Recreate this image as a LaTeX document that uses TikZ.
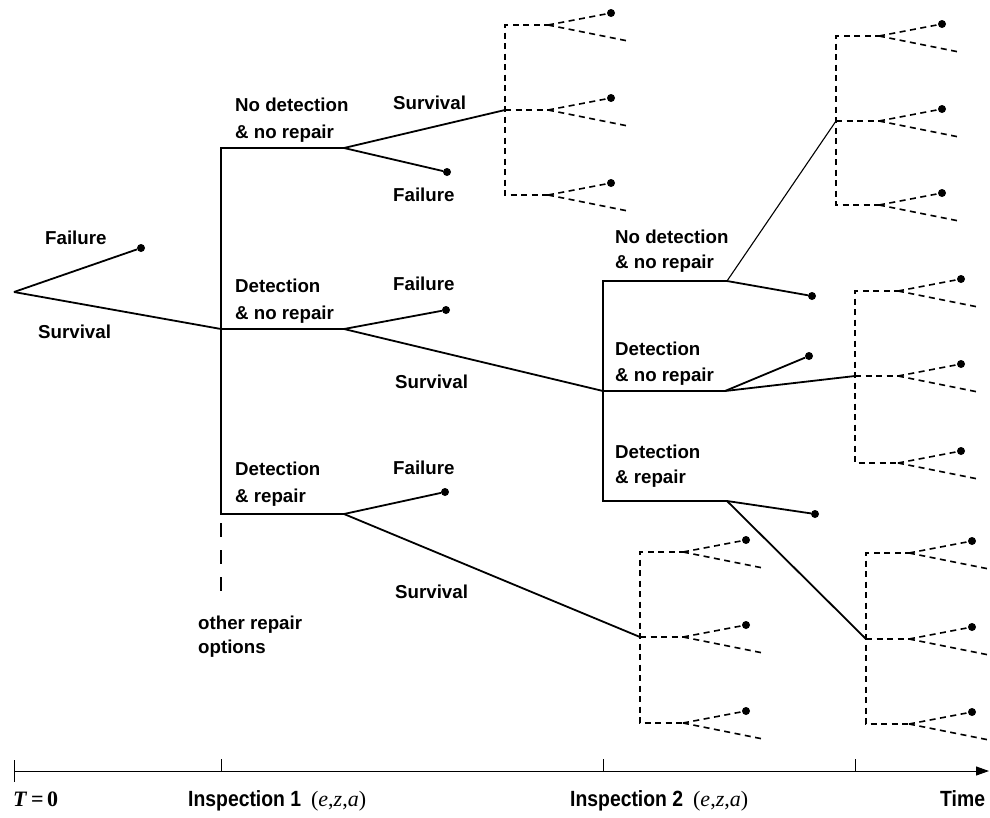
\documentclass[tikz,border=0pt]{standalone}
\usepackage{fontspec}
\setmainfont{Liberation Sans}
\newfontfamily\axisfont{Liberation Sans}[FakeStretch=0.88]
\newfontfamily\serifaxis{Liberation Serif}
\usetikzlibrary{arrows.meta}
\newcommand\dgroup[5]{%
  \draw[dsh] ({#2+45},#3) -- (#2,#3) -- (#2,#5) -- ({#2+45},#5);
  \draw[dsh] (#2,#4) -- ({#2+45},#4);
  \coordinate (#1m) at (#2,#4);
  \foreach \k/\yy in {t/#3,m/#4,b/#5}{%
    \coordinate (#1\k s) at ({#2+43},\yy);
    \node[dotn] (#1\k d) at ({#2+106},{\yy-12}) {};
    \coordinate (#1\k e) at ({#2+123},{\yy+16});
    \draw[dsh] (#1\k s) -- (#1\k d);
    \draw[dsh] (#1\k s) -- (#1\k e);
  }%
}
\tikzset{
  br/.style={line width=1.8pt},
  thinbr/.style={line width=1.1pt},
  dsh/.style={line width=1.6pt, dash pattern=on 6pt off 4.5pt},
  dotn/.style={circle, fill=black, inner sep=0pt, minimum size=8pt},
  lbl/.style={anchor=base west, inner sep=0pt, font=\bfseries\fontsize{18.7}{22}\selectfont},
  axl/.style={anchor=base west, inner sep=0pt, font=\axisfont\bfseries\fontsize{22}{26}\selectfont},
}
\begin{document}
\begin{tikzpicture}[x=1pt,y=-1pt]
\useasboundingbox[fill=white] (0,0) rectangle (990,817);

% ---- root ----
\coordinate (root) at (14,292);
\node[dotn] (d0) at (141,248) {};
\coordinate (i1t) at (221,148);
\coordinate (i1m) at (221,329);
\coordinate (i1b) at (221,514);
\coordinate (i1te) at (344,148);
\coordinate (i1me) at (344,329);
\coordinate (i1be) at (344,514);
\draw[br] (root) -- (d0);
\draw[br] (root) -- (i1m);
\draw[br, line join=miter] (i1te) -- (i1t) -- (i1b) -- (i1be);
\draw[br] (i1m) -- (i1me);
\coordinate (ors) at (221,523);
\coordinate (ore) at (221,591);
\draw[line width=1.8pt, dash pattern=on 14pt off 13pt] (ors) -- (ore);

% failures after inspection 1
\node[dotn] (f1) at (447,172) {};
\node[dotn] (f2) at (446,310) {};
\node[dotn] (f3) at (445,492) {};
\draw[br] (i1te) -- (f1);
\draw[br] (i1me) -- (f2);
\draw[br] (i1be) -- (f3);

% ---- inspection 2 ----
\coordinate (i2t) at (603,281);
\coordinate (i2m) at (603,391);
\coordinate (i2b) at (603,501);
\coordinate (i2te) at (727,281);
\coordinate (i2me) at (725,391);
\coordinate (i2be) at (727,501);
\draw[br, line join=miter] (i2te) -- (i2t) -- (i2b) -- (i2be);
\draw[br] (i2m) -- (i2me);
\draw[br] (i1me) -- (i2m);
\node[dotn] (f4) at (812,296) {};
\node[dotn] (f5) at (809,356) {};
\node[dotn] (f6) at (815,514) {};
\draw[br] (i2te) -- (f4);
\draw[br] (i2me) -- (f5);
\draw[br] (i2be) -- (f6);

% ---- dashed groups ----
\dgroup{ga}{505}{25}{110}{195}
\dgroup{gb}{836}{36}{121}{205}
\dgroup{gc}{855}{291}{376}{463}
\dgroup{gd}{640}{552}{637}{723}
\dgroup{ge}{866}{553}{639}{724}

\draw[br] (i1te) -- (gam);
\draw[br] (i1be) -- (gdm);
\draw[thinbr] (i2te) -- (gbm);
\draw[br] (i2me) -- (gcm);
\draw[br] (i2be) -- (gem);

% ---- labels ----
\node[lbl] (t1) at (45,244) {Failure};
\node[lbl] (t2) at (38,338) {Survival};
\node[lbl] (t3) at (235,111) {No detection};
\node[lbl] (t4) at (235,138) {\& no repair};
\node[lbl] (t5) at (393,109) {Survival};
\node[lbl] (t6) at (393,201) {Failure};
\node[lbl] (t7) at (235,292) {Detection};
\node[lbl] (t8) at (235,319) {\& no repair};
\node[lbl] (t9) at (393,290) {Failure};
\node[lbl] (t10) at (395,388) {Survival};
\node[lbl] (t11) at (235,475) {Detection};
\node[lbl] (t12) at (235,502) {\& repair};
\node[lbl] (t13) at (393,474) {Failure};
\node[lbl] (t14) at (395,598) {Survival};
\node[lbl] (t15) at (198,629) {other repair};
\node[lbl] (t16) at (198,653) {options};
\node[lbl] (t17) at (615,243) {No detection};
\node[lbl] (t18) at (615,268) {\& no repair};
\node[lbl] (t19) at (615,355) {Detection};
\node[lbl] (t20) at (615,381) {\& no repair};
\node[lbl] (t21) at (615,458) {Detection};
\node[lbl] (t22) at (615,483) {\& repair};

% ---- time axis ----
\coordinate (ax0) at (14,771);
\coordinate (axe) at (989,771);
\draw[line width=1pt, -{Triangle[length=13pt,width=9pt]}] (ax0) -- (axe);
\coordinate (k0a) at (14,760); \coordinate (k0b) at (14,782);
\coordinate (k1a) at (221,759); \coordinate (k1b) at (221,771);
\coordinate (k2a) at (603,759); \coordinate (k2b) at (603,771);
\coordinate (k3a) at (855,759); \coordinate (k3b) at (855,771);
\draw[line width=1pt] (k0a) -- (k0b);
\draw[line width=1pt] (k1a) -- (k1b);
\draw[line width=1pt] (k2a) -- (k2b);
\draw[line width=1pt] (k3a) -- (k3b);

\node[anchor=base west, inner sep=0pt, font=\serifaxis\bfseries\fontsize{22}{26}\selectfont] (a0) at (13,806) {\textit{T}\,=\,0};
\node[axl] (a1) at (188,806) {Inspection 1\hspace{10pt}{\serifaxis\mdseries(\textit{e},\textit{z},\textit{a})}};
\node[axl] (a2) at (570,806) {Inspection 2\hspace{10pt}{\serifaxis\mdseries(\textit{e},\textit{z},\textit{a})}};
\node[axl] (a3) at (940,806) {Time};
\end{tikzpicture}
\end{document}
